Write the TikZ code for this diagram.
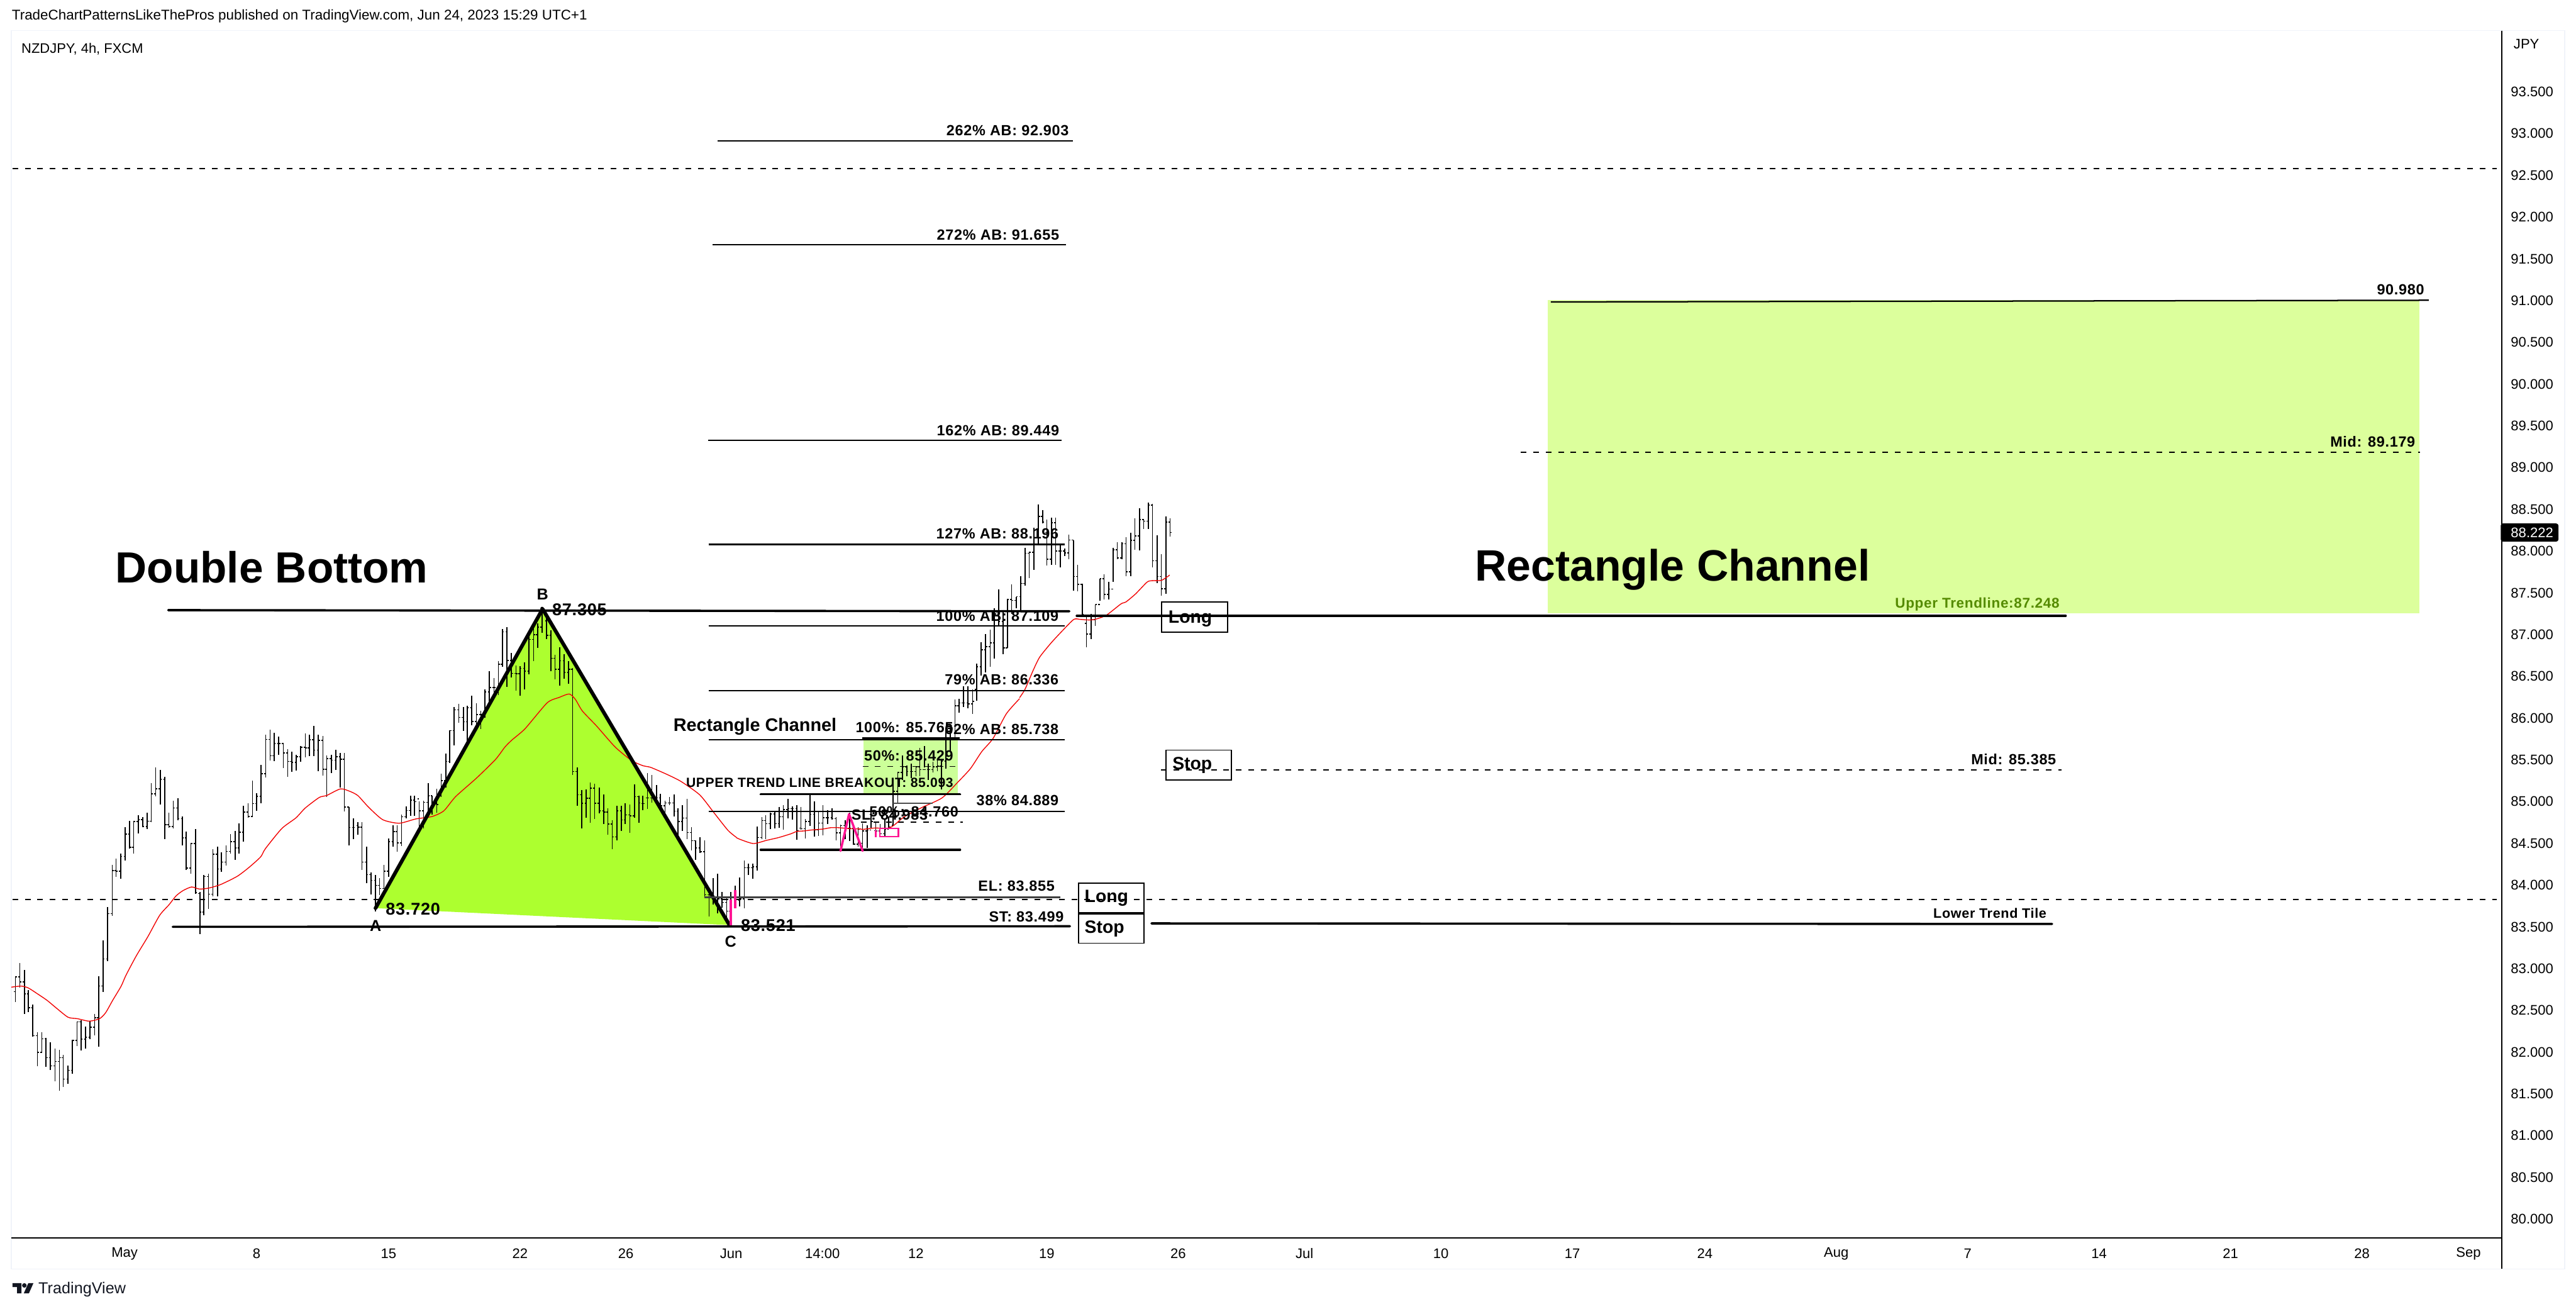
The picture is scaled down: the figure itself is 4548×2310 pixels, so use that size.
\documentclass[tikz,border=0pt]{standalone}
\usepackage{fontspec}
\setmainfont{Liberation Sans}
\newfontfamily\lsp[LetterSpace=3]{Liberation Sans}
\definecolor{tri}{HTML}{ADFF2F}
\definecolor{bigrect}{HTML}{DCFF9C}
\definecolor{smallrect}{HTML}{CCFF99}
\definecolor{frameg}{HTML}{F0F3FA}
\definecolor{pinkm}{HTML}{FF1493}
\definecolor{trendg}{HTML}{558B00}
\definecolor{logoc}{HTML}{131722}
\newcommand{\ohlc}[1]{\foreach \bx/\bh/\bl/\bo/\bc in {#1}{%
  \draw[barline] (\bx,\bh)--(\bx,\bl);
  \draw[barline] (\bx,\bo)--++(-0.55pt,0);
  \draw[barline] (\bx,\bc)--++(0.55pt,0);}}
\tikzset{
  barline/.style={line width=0.36pt,black},
  ma/.style={line width=0.3pt,red!95!black,line join=round,smooth,tension=0.4},
  thin line/.style={line width=0.46pt,black},
  thick line/.style={line width=0.8pt,black,line cap=round},
  dash line/.style={line width=0.4pt,black,dash pattern=on 2pt off 2.4pt},
  lab/.style={inner sep=0pt,anchor=east,text=black,font=\fontsize{5.2}{6}\selectfont\lsp\bfseries},
  big/.style={inner sep=0pt,anchor=west,font=\fontsize{15.4}{17}\selectfont\bfseries},
  word/.style={inner sep=0pt,anchor=west,font=\fontsize{6.3}{7}\selectfont\bfseries},
  pt label/.style={inner sep=0pt,font=\fontsize{5.6}{6}\selectfont\bfseries},
  num/.style={inner sep=0pt,anchor=west,font=\fontsize{6}{6}\selectfont\lsp\bfseries},
  price/.style={inner sep=0pt,anchor=west,font=\fontsize{4.9}{6}\selectfont},
  tm/.style={inner sep=0pt,font=\fontsize{4.9}{6}\selectfont},
  tradebox/.style={draw=black,line width=0.4pt},
  pink/.style={draw=pinkm,line width=0.8pt}
}
\begin{document}
\begin{tikzpicture}[x=0.2pt,y=-0.2pt]
\useasboundingbox (0,0) rectangle (4548,2310);
\fill[white] (0,0) rectangle (4548,2310);
% frame
\draw[frameg,line width=0.3pt] (20,54) rectangle (4528,2240);
% header
\node[inner sep=0pt,anchor=west,font=\fontsize{4.98}{6}\selectfont] (hdr) at (20,28) {TradeChartPatternsLikeThePros published on TradingView.com, Jun 24, 2023 15:29 UTC+1};
\node[inner sep=0pt,anchor=west,font=\fontsize{4.87}{6}\selectfont] (sym) at (37,86) {NZDJPY, 4h, FXCM};
% coloured areas
\fill[bigrect] (2732,530) rectangle (4272,1083);
\fill[smallrect] (1525,1303) rectangle (1691,1400);
% dashed levels
\draw[dash line] (22,298) -- (4408,298);
\draw[dash line] (22,1588) -- (4408,1588);
\draw[dash line] (2050,1359) -- (3640,1359);
\draw[dash line] (2685,798) -- (4273,798);
\draw[dash line] (1523,1353) -- (1687,1353);
\draw[dash line] (1520,1451) -- (1700,1451);
% triangle fill
\coordinate (A) at (663,1603);
\coordinate (B) at (958,1075);
\coordinate (C) at (1288,1633);
\fill[tri] (A) -- (B) -- (C) -- cycle;
% bars
\begin{scope}[shift={(20,1300)},x=0.0666667pt,y=-0.0841751pt]
\ohlc{21/1005/1115/1070/1008,45/950/1052/1008/1030,69/980/1165/1030/1080,90/1065/1155/1080/1137,114/1125/1260/1137/1255,138/1240/1383/1255/1325,162/1240/1325/1325/1268,184/1265/1385/1268/1347,207/1282/1400/1347/1382,231/1308/1447/1382/1363,255/1315/1485/1363/1347,275/1335/1470/1347/1437,300/1380/1457/1437/1400,324/1272/1415/1400/1275,348/1195/1298/1275/1197,369/1190/1318/1197/1270,393/1217/1308/1270/1262,417/1192/1270/1262/1220,441/1163/1255/1220/1180,462/1005/1300/1180/1047,486/855/1072/1047/933,510/715/943/933/743,534/538/752/743/563,555/512/590/563/565,579/490/597/565/503,603/380/520/503/410,627/353/470/410/465,648/353/492/465/357,672/330/407/357/348,696/338/380/348/378,720/320/387/378/355,741/195/358/355/240,765/130/250/240/220,789/140/285/220/180,813/168/430/180/370,834/320/382/370/378,858/270/385/378/300,882/258/352/300/345,906/335/458/345/425,927/400/560/425/552,951/447/575/552/449,975/388/660/449/655}
\end{scope}
\begin{scope}[shift={(340,1240)},x=0.0666667pt,y=-0.0666667pt]
\ohlc{39/1005/1225/1012/1110,60/915/1125/1110/922,84/907/1093/922/1015,108/778/1025/1015/803,132/763/1025/803/882,153/795/897/882/845,177/757/862/845/788,201/697/800/788/737,225/680/832/737/770,246/640/800/770/687,270/548/737/687/580,294/535/610/580/603,318/415/605/603/535,339/482/575/535/497,363/332/535/497/378,387/172/397/378/195,411/145/307/195/282,432/160/310/282/218,456/182/277/218/218,480/215/347/218/267,504/248/395/267/312,525/260/367/312/318,549/278/360/318/287,573/230/313/287/238,597/163/290/238/240,618/172/285/240/197,642/125/283/197/252,666/172/363/252/200,690/178/388/200/353,711/280/502/353/298,735/278/373/298/305,759/250/358/305/287,783/268/450/287/300,804/268/577/300/553,828/553/757/553/662,852/615/725/662/662,876/635/700/652/660,897/635/888/660/845,921/763/958/845/912,945/900/1015/912/942,969/915/1105/942/968,990/930/1020/968/985,1014/860/985/985/893,1038/720/925/893/737,1062/650/765/737/683,1083/650/790/683/743,1107/595/760/743/605,1131/550/615/605/572,1155/493/600/572/518,1176/495/600/518/525}
\end{scope}
\begin{scope}[shift={(730,1060)},x=0.0666667pt,y=-0.0714286pt]
\ohlc{30/992/1150/980/1040,54/990/1128/1040/998,78/903/1055/998/965,99/965/1058/965/1005,123/930/1048/1005/1008,147/855/972/965/890,171/757/925/890/795,192/640/802/795/643,216/527/715/643/540,240/510/605/540/578,264/527/645/578/600,285/520/700/600/530,309/470/618/530/598,333/508/635/598/563,357/545/635/563/563,378/438/580/563/452,402/348/500/452/430,426/382/470/430/430,450/298/468/430/315,471/142/328/315/155,495/133/428/155/297,519/260/380/297/360,543/322/445/360/362,564/325/472/362/335,588/305/440/335/350,612/170/365/350/192,636/135/298/192/168,657/112/235/168/132,681/50/160/132/55,705/60/192/100/172,729/147/350/172/285,750/268/390/285/340,774/232/422/340/298,798/265/388/298/355,822/300/412/355/340,843/335/862/340/845,867/825/1015/845/960,891/937/1125/960/1003,915/935/1075/1003/978,936/900/1097/978/928,960/905/1080/928/1003,984/925/1052/1003/1040,1008/958/1105/1040/1045,1029/1028/1158/1045/1105,1053/1085/1228/1105/1168,1077/1015/1185/1168/1040,1101/1015/1140/1040/1085,1122/1003/1105/1085/1060,1146/1008/1147/1060/1065,1170/908/1075/1065/970,1194/965/1100/970/1000}
\end{scope}
\begin{scope}[shift={(1120,1300)},x=0.0666667pt,y=-0.0666667pt]
\ohlc{45/315/390/355/355,69/195/382/325/325,93/205/352/325/322,117/257/350/322/325,138/305/395/325/367,162/340/430/367/352,186/322/365/352/352,210/307/422/352/395,231/380/525/395/450,255/365/500/450/432,279/330/545/432/508,303/480/605/508/552,324/550/652/552/590,348/532/618/590/610,372/550/850/610/838,396/815/952/838/838,417/750/890/838/850,441/727/937/850/860,465/825/905/860/878,489/848/990/878/925,510/825/1000/925/905,534/790/908/908/815,558/748/900/868/860,582/658/910/860/695,603/672/733/695/695,627/672/755/695/690,651/478/710/690/535,675/428/545/535/445,696/418/545/445/462,720/405/490/462/410,744/398/487/410/462,768/372/485/462/425,789/362/495/425/388,813/330/432/388/382,837/370/440/382/382,861/365/547/382/500,882/372/495/485/488,906/437/540/488/450,930/310/475/450/412,954/343/530/412/495,975/398/528/495/458,999/365/525/458/430,1023/390/462/430/430,1047/380/440/430/435,1068/428/550/435/510,1092/467/600/510/472,1116/445/545/472/485,1140/405/555/485/487,1161/482/572/487/570,1185/480/585/570/490,1209/460/605/565/500,1233/470/590/500/495,1254/400/485/495/450,1278/450/535/498/500,1302/465/520/500/515,1326/440/535/515/490,1347/425/485/490/478}
\end{scope}
\begin{scope}[shift={(1500,1180)},x=0.0666667pt,y=-0.0666667pt]
\ohlc{231/610/830/830/650,255/548/710/650/550,279/460/590/550/520,303/515/570/520/545,327/505/580/545/545,351/518/570/545/520,372/420/570/520/535,396/412/525/535/535,417/505/590/535/535,441/495/550/535/520,465/485/545/520/515,486/485/640/515/490,510/315/530/490/378,534/325/440/378/378,558/165/370/378/197,579/160/235/197/183,603/95/205/183/183,627/95/210/183/187,651/110/240/187/175}
\end{scope}
\begin{scope}[shift={(1250,850)},x=0.114811pt,y=-0.0666667pt]
\ohlc{826/965/1160/1100/980,840/850/1027/980/890,854/808/1010/890/875,868/785/980/875/855,881/670/938/855/700,894/572/760/700/740,908/680/913/740/880,921/620/880/880/625,934/545/700/625/630,948/610/670/630/610,962/500/680/610/540,975/350/550/540/380,988/370/512/380/375,1002/245/468/375/300,1016/120/335/300/185,1029/150/220/185/215,1042/200/445/270/412,1056/190/440/412/218,1069/190/440/218/368,1083/335/455/368/368,1097/355/395/368/378,1110/280/410/378/310,1124/310/578/310/503,1137/440/580/503/545,1151/540/710/545/705,1164/710/878/750/808,1178/700/835/808/730,1191/650/765/730/652,1205/515/630/652/515,1218/492/625/515/597,1232/532/625/597/570,1246/350/530/570/362,1259/320/410/362/405,1273/320/410/405/330,1286/295/500/330/477,1300/270/500/477/312,1313/195/360/312/287,1327/142/365/287/202,1340/200/250/202/210,1354/110/250/210/125,1367/118/455/125/420,1381/283/538/420/503,1394/385/605/503/567,1408/185/595/567/215,1421/195/290/215/270}
\end{scope}
% moving average
\begin{scope}[shift={(0,1000)},x=0.16584pt,y=-0.125pt]
\draw[ma] plot coordinates {(24,1188)(45,1185)(60,1190)(80,1207)(100,1225)(120,1247)(145,1273)(165,1277)(190,1284)(212,1277)(225,1260)(240,1225)(258,1185)(268,1155)(290,1100)(315,1045)(340,985)(360,955)(375,930)(390,915)(408,905)(425,911)(445,908)(470,898)(505,875)(530,850)(555,820)(565,797)(600,740)(630,710)(650,682)(680,652)(695,647)(725,628)(745,635)(762,647)(785,680)(815,715)(850,725)(885,713)(920,706)(945,690)(970,650)(1015,597)(1055,545)(1075,510)(1090,490)(1118,458)(1165,385)(1190,370)(1212,360)(1225,375)(1240,408)(1270,450)(1310,510)(1345,548)(1370,563)(1385,567)(1420,587)(1450,607)(1490,645)(1520,695)(1550,745)(1568,765)};
\end{scope}
\begin{scope}[shift={(1120,1300)},x=0.0666667pt,y=-0.0666667pt]
\draw[ma] plot coordinates {(540,535)(555,543)(630,567)(700,550)(765,535)(830,515)(860,503)(900,500)(940,495)(1000,490)(1040,483)(1080,483)(1140,488)(1200,490)};
\end{scope}
\begin{scope}[shift={(1500,1180)},x=0.0666667pt,y=-0.0666667pt]
\draw[ma] plot coordinates {(60,850)(70,852)(130,845)(205,845)(235,830)(290,785)(385,735)(490,685)(575,600)(640,530)(700,440)(760,370)(830,240)(900,160)};
\end{scope}
\begin{scope}[shift={(1250,850)},x=0.114811pt,y=-0.0666667pt]
\draw[ma] plot coordinates {(958,1145)(975,1100)(1000,1000)(1020,930)(1055,855)(1090,790)(1125,730)(1145,730)(1170,733)(1190,730)(1225,708)(1270,648)(1285,638)(1315,595)(1350,533)(1365,525)(1395,523)(1420,495)};
\end{scope}
% triangle outline
\draw[line width=1.3pt,black,line cap=round,line join=round] (A) -- (B) -- (C);
\fill[black] (663,1603) circle (3);
\fill[black] (957,1074) circle (3);
% fib lines
\draw[thin line] (1267,249) -- (1894,249);
\draw[thin line] (1258,432) -- (1882,432);
\draw[thin line] (1250,777) -- (1874,777);
\draw[thin line] (1251,961) -- (1880,961);
\draw[thin line] (1251,1105) -- (1880,1105);
\draw[thin line] (1251,1219) -- (1880,1219);
\draw[thin line] (1251,1306) -- (1880,1306);
\draw[thin line] (1251,1432) -- (1880,1432);
\draw[thin line] (1522,1303) -- (1694,1303);
\draw[line width=0.4pt,black!70] (1577,1418) -- (1647,1418);
\draw[line width=0.5pt,black!75] (1244,1584) -- (1872,1584);
\draw[line width=0.4pt,black!70] (1244,1636) -- (1300,1636);
% trend lines
\draw[thick line] (297,1077) -- (1888,1079);
\draw[thick line] (1901,1087) -- (3647,1087);
\draw[thick line] (305,1636) -- (1889,1635);
\draw[thick line] (2033,1630) -- (3623,1631);
\draw[thick line] (1343,1402) -- (1695,1402);
\draw[thick line] (1343,1500) -- (1695,1500);
\draw[line width=0.5pt,black] (2738,533) -- (4288,530);
% pink marks
\draw[pink,line join=round,line cap=round] (1484,1502) -- (1499,1437) -- (1523,1502);
\draw[pinkm,line width=0.5pt] (1553,1462) rectangle (1586,1477);
\draw[pinkm,line width=0.6pt] (1546,1466) -- (1546,1478);
\draw[pinkm,line width=0.8pt] (1290,1588) -- (1290,1633);
\draw[pinkm,line width=0.8pt] (1298,1571) -- (1298,1603);
% trade boxes
\node[tradebox,minimum width=23.2pt,minimum height=10.6pt,anchor=north west,inner sep=0pt] (bl1) at (2050,1062) {};
\node[tradebox,minimum width=23pt,minimum height=10.6pt,anchor=north west,inner sep=0pt] (bs1) at (2058,1323) {};
\node[tradebox,minimum width=23.2pt,minimum height=10.4pt,anchor=north west,inner sep=0pt] (bl2) at (1903,1558) {};
\node[tradebox,minimum width=23.2pt,minimum height=10.4pt,anchor=north west,inner sep=0pt] (bs2) at (1903,1612) {};
\node[word] (tl1) at (2062,1092) {Long};
\node[word] (ts1) at (2069,1351) {Stop};
\node[word] (tl2) at (1914,1585) {Long};
\node[word] (ts2) at (1914,1639) {Stop};
% titles
\node[big] (db) at (203,1001) {Double Bottom};
\node[big,font=\fontsize{15.5}{17}\selectfont\bfseries] (rc) at (2603,1006) {Rectangle Channel};
\node[inner sep=0pt,anchor=west,font=\fontsize{6.4}{7}\selectfont\bfseries] (rcs) at (1188,1283) {Rectangle Channel};
% pattern points
\node[pt label] (la) at (663,1634) {A};
\node[pt label] (lb) at (958,1049) {B};
\node[pt label] (lc) at (1290,1662) {C};
\node[num] (na) at (680,1605) {83.720};
\node[num] (nb) at (974,1076) {87.305};
\node[num] (nc) at (1307,1634) {83.521};
% fib labels
\node[lab] (f1) at (1888,230) {262\% AB: 92.903};
\node[lab] (f2) at (1871,415) {272\% AB: 91.655};
\node[lab] (f3) at (1871,760) {162\% AB: 89.449};
\node[lab] (f4) at (1870,942) {127\% AB: 88.196};
\node[lab] (f5) at (1870,1087) {100\% AB: 87.109};
\node[lab] (f6) at (1870,1200) {79\% AB: 86.336};
\node[lab] (f7) at (1870,1287) {62\% AB: 85.738};
\node[lab] (f8) at (1870,1413) {38\% 84.889};
\node[lab] (r1) at (1684,1284) {100\%: 85.765};
\node[lab] (r2) at (1684,1334) {50\%: 85.429};
\node[lab,font=\fontsize{4.7}{6}\selectfont\lsp\bfseries] (r3) at (1684,1382) {UPPER TREND LINE BREAKOUT: 85.093};
\node[lab] (r4) at (1693,1433) {50\%: 84.760};
\node[lab] (r5) at (1639,1438) {SL: 84.983};
\node[lab] (e1) at (1863,1564) {EL: 83.855};
\node[lab] (e2) at (1879,1618) {ST: 83.499};
% right side labels
\node[lab] (g1) at (4281,511) {90.980};
\node[lab] (g2) at (4265,780) {Mid: 89.179};
\node[lab,text=trendg,font=\fontsize{5}{6}\selectfont\lsp\bfseries] (g3) at (3637,1067) {Upper Trendline:87.248};
\node[lab] (g4) at (3631,1340) {Mid: 85.385};
\node[lab,font=\fontsize{4.8}{6}\selectfont\lsp\bfseries] (g5) at (3614,1612) {Lower Trend Tile};
% axes
\draw[black,line width=0.4pt] (4417,54) -- (4417,2240);
\draw[black,line width=0.4pt] (20,2185) -- (4417,2185);
\node[price] (jpy) at (4437,78) {JPY};
\foreach \pv [count=\pi from 0] in {93.500,93.000,92.500,92.000,91.500,91.000,90.500,90.000,89.500,89.000,88.500,88.000,87.500,87.000,86.500,86.000,85.500,85.000,84.500,84.000,83.500,83.000,82.500,82.000,81.500,81.000,80.500,80.000}
  \node[price] (p\pi) at (4432,{162+\pi*73.7}) {\pv};
\fill[black,rounded corners=0.8pt] (4415,924) rectangle (4517,956);
\node[price,text=white] (cur) at (4432,940) {88.222};
\foreach \tx/\tt [count=\ti] in {220/May,453/8,686/15,918/22,1105/26,1291/Jun,1452/14:00,1617/12,1848/19,2080/26,2303/Jul,2544/10,2776/17,3010/24,3242/Aug,3474/7,3706/14,3938/21,4170/28,4358/Sep}
  \node[tm] (t\ti) at (\tx,2213) {\tt};
% logo
\fill[logoc] (22,2265) -- (38,2265) -- (38,2283) -- (30,2283) -- (30,2272) -- (22,2272) -- cycle;
\fill[logoc] (43,2269) circle (4);
\fill[logoc] (50,2265) -- (59,2265) -- (51,2283) -- (42,2283) -- cycle;
\node[inner sep=0pt,anchor=west,font=\fontsize{5.6}{6}\selectfont,text=logoc] (tv) at (67,2276) {TradingView};
\end{tikzpicture}
\end{document}
